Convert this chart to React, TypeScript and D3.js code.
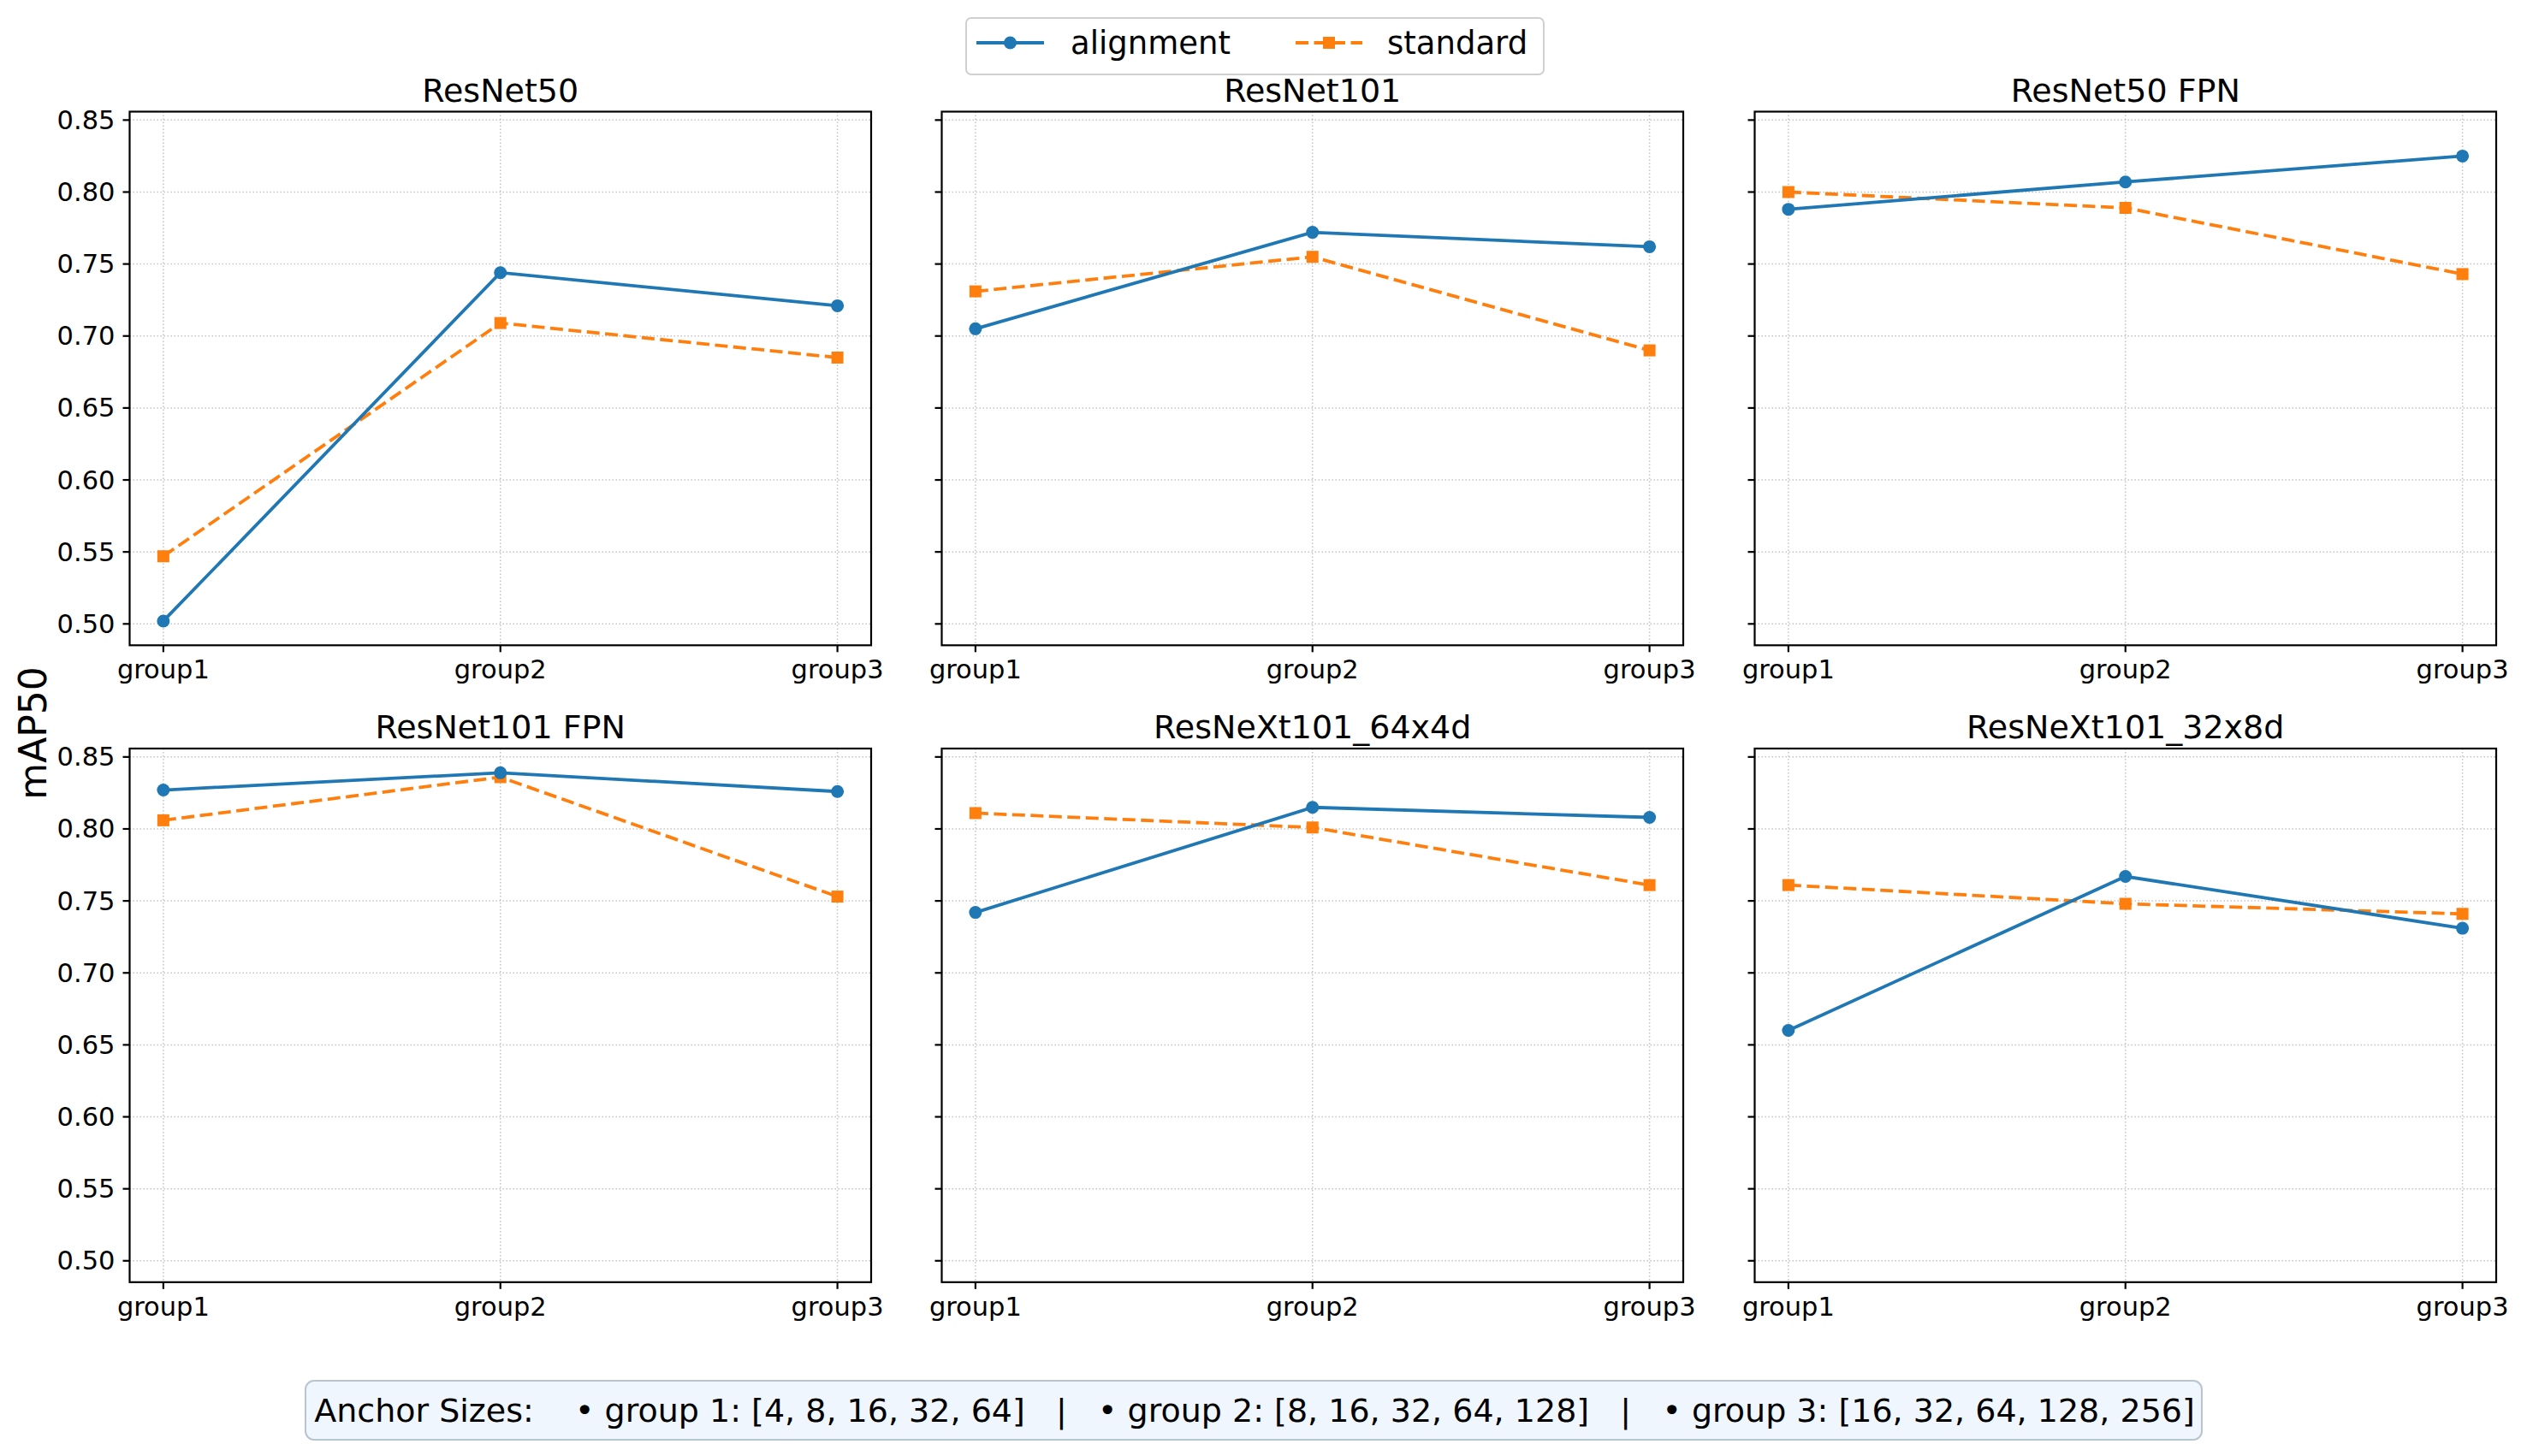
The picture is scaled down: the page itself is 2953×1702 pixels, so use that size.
import React, { useEffect, useRef } from "react";
import * as d3 from "d3";

// groups on the x axis
const groups = ["group1", "group2", "group3"];

// one panel per backbone
const models = [
  "ResNet50",
  "ResNet101",
  "ResNet50 FPN",
  "ResNet101 FPN",
  "ResNeXt101_64x4d",
  "ResNeXt101_32x8d",
];

// mAP50 per model (rows) and group (cols)
const alignment = [
  [0.502, 0.744, 0.721],
  [0.705, 0.772, 0.762],
  [0.788, 0.807, 0.825],
  [0.827, 0.839, 0.826],
  [0.742, 0.815, 0.808],
  [0.66, 0.767, 0.731],
];

const standard = [
  [0.547, 0.709, 0.685],
  [0.731, 0.755, 0.69],
  [0.8, 0.789, 0.743],
  [0.806, 0.836, 0.753],
  [0.811, 0.801, 0.761],
  [0.761, 0.748, 0.741],
];

const yTicks = [0.5, 0.55, 0.6, 0.65, 0.7, 0.75, 0.8, 0.85];

const anchorNote =
  "Anchor Sizes:    \u2022 group 1: [4, 8, 16, 32, 64]   |   \u2022 group 2: [8, 16, 32, 64, 128]   |   \u2022 group 3: [16, 32, 64, 128, 256]";

const W = 2953;
const H = 1702;
const FONT = "DejaVu Sans, sans-serif";
const BLUE = "#1f77b4";
const ORANGE = "#ff7f0e";
const TICK_FS = 30.5;

const App: React.FC = () => {
  const ref = useRef<SVGSVGElement | null>(null);

  useEffect(() => {
    if (!ref.current) return;
    const svg = d3.select(ref.current);
    svg.selectAll("*").remove();
    svg.attr("width", W).attr("height", H);
    svg.append("rect").attr("width", W).attr("height", H).attr("fill", "#fff");

    const colLeft = [151.5, 1100.5, 2050.5];
    const rowTop = [130.5, 875];
    const pw = 866.5;
    const ph = 623.8;

    // shared y domain with matplotlib-like 5% margins
    const all = [...alignment.flat(), ...standard.flat()];
    const lo = d3.min(all) as number;
    const hi = d3.max(all) as number;
    const pad = (hi - lo) * 0.05;

    const x = d3.scaleLinear().domain([-0.1, 2.1]).range([0, pw]);
    const y = d3.scaleLinear().domain([lo - pad, hi + pad]).range([ph, 0]);

    models.forEach((name, i) => {
      const col = i % 3;
      const row = Math.floor(i / 3);
      const g = svg.append("g").attr("transform", `translate(${colLeft[col]},${rowTop[row]})`);

      // grid
      yTicks.forEach(t => {
        g.append("line")
          .attr("x1", 0).attr("x2", pw)
          .attr("y1", y(t)).attr("y2", y(t))
          .attr("stroke", "#b0b0b0").attr("stroke-opacity", 0.75)
          .attr("stroke-width", 1.5).attr("stroke-dasharray", "1.5,2.5");
      });
      groups.forEach((_, k) => {
        g.append("line")
          .attr("x1", x(k)).attr("x2", x(k))
          .attr("y1", 0).attr("y2", ph)
          .attr("stroke", "#b0b0b0").attr("stroke-opacity", 0.75)
          .attr("stroke-width", 1.5).attr("stroke-dasharray", "1.5,2.5");
      });

      const line = d3.line<number>()
        .x((_, k) => x(k))
        .y(d => y(d));

      // standard (dashed, squares)
      g.append("path")
        .attr("d", line(standard[i]) || "")
        .attr("fill", "none")
        .attr("stroke", ORANGE)
        .attr("stroke-width", 3.8)
        .attr("stroke-dasharray", "15,6.5");
      standard[i].forEach((v, k) => {
        g.append("rect")
          .attr("x", x(k) - 7).attr("y", y(v) - 7)
          .attr("width", 14).attr("height", 14)
          .attr("fill", ORANGE);
      });

      // alignment (solid, circles)
      g.append("path")
        .attr("d", line(alignment[i]) || "")
        .attr("fill", "none")
        .attr("stroke", BLUE)
        .attr("stroke-width", 3.8);
      alignment[i].forEach((v, k) => {
        g.append("circle")
          .attr("cx", x(k)).attr("cy", y(v))
          .attr("r", 7.5)
          .attr("fill", BLUE);
      });

      // frame
      g.append("rect")
        .attr("width", pw).attr("height", ph)
        .attr("fill", "none").attr("stroke", "#000").attr("stroke-width", 2.2);

      // y ticks
      yTicks.forEach(t => {
        g.append("line")
          .attr("x1", -8).attr("x2", 0)
          .attr("y1", y(t)).attr("y2", y(t))
          .attr("stroke", "#000").attr("stroke-width", 2.2);
        if (col === 0) {
          g.append("text")
            .attr("x", -17).attr("y", y(t))
            .attr("text-anchor", "end")
            .attr("dominant-baseline", "central")
            .attr("font-family", FONT).attr("font-size", TICK_FS)
            .text(d3.format(".2f")(t));
        }
      });

      // x ticks
      groups.forEach((lab, k) => {
        g.append("line")
          .attr("x1", x(k)).attr("x2", x(k))
          .attr("y1", ph).attr("y2", ph + 8)
          .attr("stroke", "#000").attr("stroke-width", 2.2);
        g.append("text")
          .attr("x", x(k)).attr("y", ph + 39)
          .attr("text-anchor", "middle")
          .attr("font-family", FONT).attr("font-size", TICK_FS)
          .text(lab);
      });

      g.append("text")
        .attr("x", pw / 2).attr("y", -12)
        .attr("text-anchor", "middle")
        .attr("font-family", FONT).attr("font-size", 38)
        .text(name);
    });

    // y label
    svg.append("text")
      .attr("transform", "translate(54,857) rotate(-90)")
      .attr("text-anchor", "middle")
      .attr("font-family", FONT).attr("font-size", 44)
      .text("mAP50");

    // legend
    const lg = svg.append("g");
    lg.append("rect")
      .attr("x", 1129).attr("y", 21).attr("width", 675).attr("height", 66)
      .attr("rx", 6).attr("fill", "#fff").attr("stroke", "#d0d0d0").attr("stroke-width", 2);
    lg.append("line")
      .attr("x1", 1141).attr("x2", 1220).attr("y1", 50).attr("y2", 50)
      .attr("stroke", BLUE).attr("stroke-width", 3.8);
    lg.append("circle").attr("cx", 1180.5).attr("cy", 50).attr("r", 7.5).attr("fill", BLUE);
    lg.append("text")
      .attr("x", 1251).attr("y", 63)
      .attr("font-family", FONT).attr("font-size", 37)
      .text("alignment");
    lg.append("line")
      .attr("x1", 1514).attr("x2", 1592).attr("y1", 50).attr("y2", 50)
      .attr("stroke", ORANGE).attr("stroke-width", 3.8).attr("stroke-dasharray", "15,6.5");
    lg.append("rect").attr("x", 1546).attr("y", 43).attr("width", 14).attr("height", 14).attr("fill", ORANGE);
    lg.append("text")
      .attr("x", 1621).attr("y", 63)
      .attr("font-family", FONT).attr("font-size", 37)
      .text("standard");

    // anchor size note
    svg.append("rect")
      .attr("x", 357).attr("y", 1614).attr("width", 2216).attr("height", 69)
      .attr("rx", 10).attr("fill", "#f0f6fe").attr("stroke", "#b8c4d0").attr("stroke-width", 2);
    svg.append("text")
      .attr("x", 1466).attr("y", 1662)
      .attr("text-anchor", "middle")
      .attr("font-family", FONT).attr("font-size", 38)
      .style("white-space", "pre")
      .attr("xml:space", "preserve")
      .text(anchorNote);
  }, []);

  return <svg ref={ref} style={{ position: "absolute", left: 0, top: 0 }} />;
};

export default App;
